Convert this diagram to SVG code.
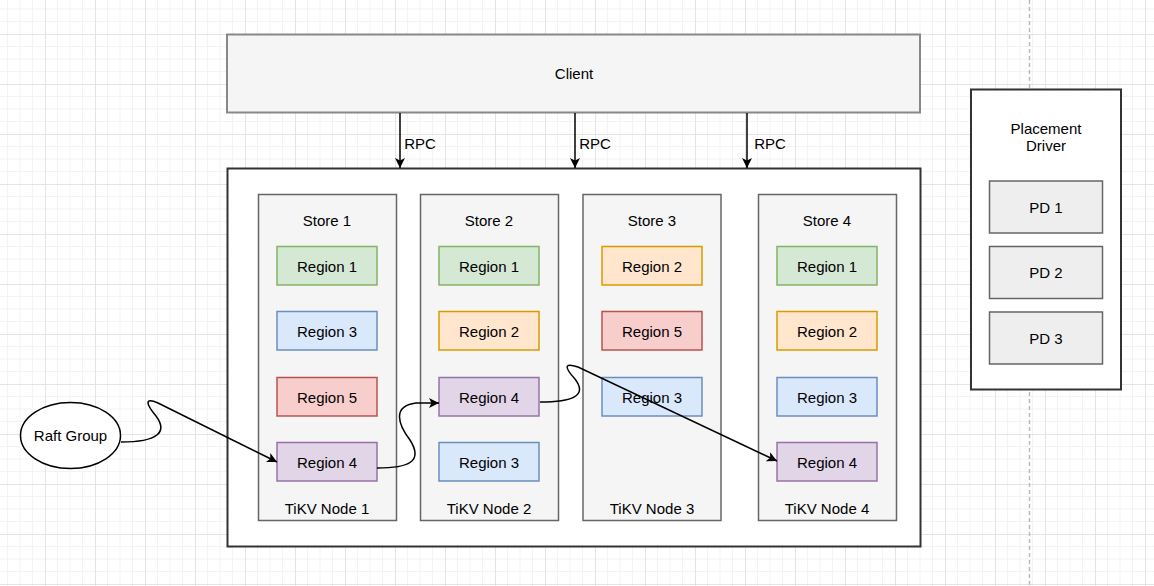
<svg xmlns="http://www.w3.org/2000/svg" width="1154" height="586" viewBox="0 0 1154 586">
<defs>
<pattern id="grid" x="45" y="34" width="50" height="50" patternUnits="userSpaceOnUse">
<path d="M12.5,0V50M25,0V50M37.5,0V50M0,12.5H50M0,25H50M0,37.5H50" stroke="#f3f3f3" stroke-width="1" fill="none"/>
<path d="M0.5,0V50M0,0.5H50" stroke="#e4e4e4" stroke-width="1" fill="none"/>
</pattern>
<marker id="arr" viewBox="0 0 10 10" refX="10" refY="5" markerWidth="10" markerHeight="10" markerUnits="userSpaceOnUse" orient="auto">
<path d="M0,0 L10,5 L0,10 L2.5,5 Z" fill="#000"/>
</marker>
<style>
text{font-family:"Liberation Sans",Arial,sans-serif;font-size:15px;fill:#000;text-anchor:middle;dominant-baseline:central}
.store{fill:#f5f5f5;stroke:#666;stroke-width:1.5}
.g{fill:#d5e8d4;stroke:#82b366;stroke-width:1.5}
.b{fill:#dae8fc;stroke:#6c8ebf;stroke-width:1.5}
.r{fill:#f8cecc;stroke:#b85450;stroke-width:1.5}
.o{fill:#ffe6cc;stroke:#d79b00;stroke-width:1.5}
.p{fill:#e1d5e7;stroke:#9673a6;stroke-width:1.5}
.pd{fill:#eeeeee;stroke:#666;stroke-width:1.5}
.edge{fill:none;stroke:#000;stroke-width:1.5}
</style>
</defs>
<rect width="1154" height="586" fill="#fff"/>
<rect width="1154" height="586" fill="url(#grid)"/>
<line x1="1029.5" y1="0" x2="1029.5" y2="586" stroke="#bbb" stroke-width="1.5" stroke-dasharray="4,3"/>

<g id="client">
<rect x="227" y="34.5" width="693" height="78" fill="#f5f5f5" stroke="#888" stroke-width="2"/>
<text x="574" y="73">Client</text>
</g>

<g id="tikv-cluster">
<rect x="227.5" y="168.5" width="693" height="378" fill="#fff" stroke="#333" stroke-width="2"/>
</g>

<g id="node1">
<rect class="store" x="258.5" y="194.5" width="138" height="326"/>
<text x="327" y="220">Store 1</text>
<text x="327" y="508">TiKV Node 1</text>
<g id="n1r1"><rect class="g" x="277" y="246.5" width="100" height="38.5"/><text x="327" y="266">Region 1</text></g>
<g id="n1r3"><rect class="b" x="277" y="311.5" width="100" height="38.5"/><text x="327" y="331">Region 3</text></g>
<g id="n1r5"><rect class="r" x="277" y="377.5" width="100" height="38.5"/><text x="327" y="397">Region 5</text></g>
<g id="n1r4"><rect class="p" x="277" y="442.5" width="100" height="38.5"/><text x="327" y="462">Region 4</text></g>
</g>

<g id="node2">
<rect class="store" x="420.5" y="194.5" width="138" height="326"/>
<text x="489" y="220">Store 2</text>
<text x="489" y="508">TiKV Node 2</text>
<g id="n2r1"><rect class="g" x="439" y="246.5" width="100" height="38.5"/><text x="489" y="266">Region 1</text></g>
<g id="n2r2"><rect class="o" x="439" y="311.5" width="100" height="38.5"/><text x="489" y="331">Region 2</text></g>
<g id="n2r4"><rect class="p" x="439" y="377.5" width="100" height="38.5"/><text x="489" y="397">Region 4</text></g>
<g id="n2r3"><rect class="b" x="439" y="442.5" width="100" height="38.5"/><text x="489" y="462">Region 3</text></g>
</g>

<g id="node3">
<rect class="store" x="583" y="194.5" width="138" height="326"/>
<text x="652" y="220">Store 3</text>
<text x="652" y="508">TiKV Node 3</text>
<g id="n3r2"><rect class="o" x="602" y="246.5" width="100" height="38.5"/><text x="652" y="266">Region 2</text></g>
<g id="n3r5"><rect class="r" x="602" y="311.5" width="100" height="38.5"/><text x="652" y="331">Region 5</text></g>
<g id="n3r3"><rect class="b" x="602" y="377.5" width="100" height="38.5"/><text x="652" y="397">Region 3</text></g>
</g>

<g id="node4">
<rect class="store" x="758.5" y="194.5" width="138" height="326"/>
<text x="827" y="220">Store 4</text>
<text x="827" y="508">TiKV Node 4</text>
<g id="n4r1"><rect class="g" x="777" y="246.5" width="100" height="38.5"/><text x="827" y="266">Region 1</text></g>
<g id="n4r2"><rect class="o" x="777" y="311.5" width="100" height="38.5"/><text x="827" y="331">Region 2</text></g>
<g id="n4r3"><rect class="b" x="777" y="377.5" width="100" height="38.5"/><text x="827" y="397">Region 3</text></g>
<g id="n4r4"><rect class="p" x="777" y="442.5" width="100" height="38.5"/><text x="827" y="462">Region 4</text></g>
</g>

<g id="pd">
<rect x="971" y="89.5" width="150" height="300" fill="#fff" stroke="#333" stroke-width="2"/>
<text x="1046" y="128">Placement</text>
<text x="1046" y="145">Driver</text>
<g id="pd1"><rect class="pd" x="989.5" y="181" width="113" height="52"/><text x="1046" y="207">PD 1</text></g>
<g id="pd2"><rect class="pd" x="989.5" y="246.5" width="113" height="52"/><text x="1046" y="272">PD 2</text></g>
<g id="pd3"><rect class="pd" x="989.5" y="312" width="113" height="52"/><text x="1046" y="338">PD 3</text></g>
</g>

<g id="raft-group">
<ellipse cx="70.5" cy="435.5" rx="50" ry="33" fill="#fff" stroke="#000" stroke-width="1.5"/>
<text x="70.5" y="435.5">Raft Group</text>
</g>

<g id="connectors">
<line class="edge" x1="400" y1="113" x2="400" y2="168" marker-end="url(#arr)"/>
<line class="edge" x1="575" y1="113" x2="575" y2="168" marker-end="url(#arr)"/>
<line class="edge" x1="747" y1="113" x2="747" y2="168" marker-end="url(#arr)"/>
<text x="420" y="143">RPC</text>
<text x="595" y="143">RPC</text>
<text x="770" y="143">RPC</text>
<path class="edge" d="M121,442 C158,442 168,432 156,416 C146,404 144,397 158,403 L277,462" marker-end="url(#arr)"/>
<path class="edge" d="M377,468 C408,468 424,462 410,440 C398,424 392,406 416,403 L439,403" marker-end="url(#arr)"/>
<path class="edge" d="M540,402 C572,402 588,396 575,379 C565,368 563,362 578,367 L777,461" marker-end="url(#arr)"/>
</g>
</svg>
